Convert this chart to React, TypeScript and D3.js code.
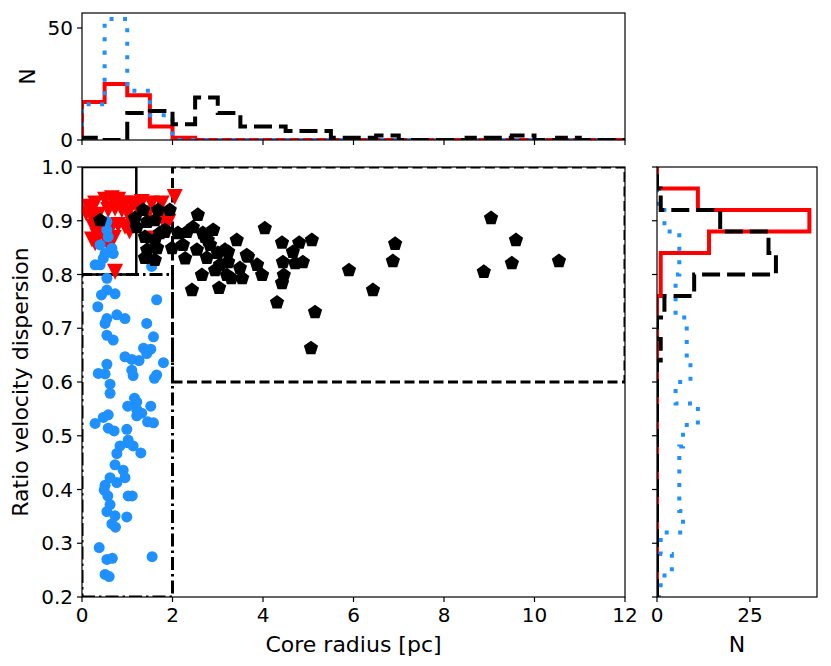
import * as d3 from 'd3';

const FONT = '"DejaVu Sans", Verdana, sans-serif';

// scatter groups: [core radius (pc), ratio velocity dispersion]
const redPoints: [number, number][] = [
  [2.05, 0.944], [1.83, 0.905], [0.14, 0.926], [0.29, 0.932], [0.51, 0.939], [0.66, 0.942],
  [0.80, 0.939], [0.95, 0.932], [1.10, 0.932], [1.32, 0.935], [1.54, 0.932], [1.76, 0.932],
  [0.21, 0.908], [0.36, 0.911], [0.58, 0.920], [0.73, 0.923], [0.88, 0.920], [1.02, 0.914],
  [1.21, 0.926], [0.25, 0.889], [0.43, 0.886], [0.66, 0.889], [0.80, 0.892], [0.95, 0.889],
  [1.10, 0.898], [1.47, 0.914], [1.76, 0.905], [1.91, 0.898], [0.29, 0.858], [0.58, 0.855],
  [0.73, 0.805], [1.54, 0.867], [0.51, 0.870], [0.09, 0.914], [0.34, 0.872], [0.22, 0.865],
  [0.70, 0.868], [1.05, 0.880],
];

const bluePoints: [number, number][] = [
  [0.55, 0.898], [0.55, 0.883], [0.58, 0.870], [0.40, 0.855], [0.66, 0.849], [0.69, 0.839],
  [0.51, 0.839], [0.47, 0.830], [0.29, 0.818], [0.40, 0.818], [1.54, 0.815], [0.55, 0.793],
  [0.55, 0.771], [0.43, 0.762], [0.73, 0.764], [0.35, 0.740], [1.65, 0.753], [0.55, 0.718],
  [0.77, 0.725], [0.95, 0.718], [0.51, 0.709], [1.43, 0.709], [0.55, 0.687], [0.69, 0.678],
  [1.58, 0.684], [1.36, 0.663], [1.52, 0.661], [1.43, 0.653], [0.95, 0.647], [1.10, 0.642],
  [1.26, 0.640], [1.80, 0.636], [0.55, 0.633], [0.36, 0.616], [0.51, 0.615], [1.10, 0.622],
  [1.13, 0.612], [1.65, 0.613], [1.60, 0.607], [0.62, 0.596], [0.62, 0.579], [1.16, 0.570],
  [1.21, 0.563], [1.01, 0.555], [1.52, 0.555], [1.21, 0.549], [1.32, 0.542], [1.21, 0.537],
  [0.58, 0.539], [0.47, 0.534], [0.29, 0.523], [1.45, 0.526], [1.58, 0.524], [0.58, 0.514],
  [0.71, 0.509], [0.99, 0.512], [1.02, 0.492], [1.02, 0.487], [1.13, 0.481], [0.84, 0.481],
  [0.77, 0.467], [1.30, 0.468], [0.73, 0.446], [0.91, 0.436], [0.95, 0.422], [0.62, 0.422],
  [0.77, 0.413], [0.51, 0.408], [0.49, 0.399], [0.57, 0.388], [1.02, 0.388], [1.11, 0.388],
  [0.62, 0.372], [0.55, 0.359], [0.73, 0.351], [0.99, 0.349], [0.66, 0.336], [0.74, 0.330],
  [0.38, 0.292], [0.55, 0.270], [0.67, 0.272], [1.55, 0.275], [0.51, 0.242], [0.60, 0.238],
];

const blackPoints: [number, number][] = [
  [9.04, 0.905], [9.59, 0.864], [9.50, 0.821], [8.88, 0.805], [10.54, 0.825], [6.92, 0.857],
  [6.87, 0.825], [5.90, 0.808], [6.43, 0.771], [5.15, 0.730], [5.06, 0.663], [5.08, 0.864],
  [4.80, 0.859], [4.66, 0.842], [4.88, 0.823], [4.71, 0.821], [4.42, 0.859], [4.44, 0.823],
  [4.46, 0.799], [4.42, 0.784], [4.31, 0.748], [4.04, 0.886],
  [2.56, 0.911], [2.45, 0.888], [2.90, 0.883], [3.42, 0.864], [2.72, 0.870], [2.32, 0.879],
  [2.12, 0.877], [1.83, 0.879], [2.23, 0.855], [1.99, 0.849], [2.28, 0.830], [2.54, 0.846],
  [2.83, 0.855], [2.76, 0.831], [3.00, 0.840], [3.23, 0.842], [3.23, 0.823], [3.05, 0.818],
  [2.94, 0.808], [3.20, 0.799], [3.30, 0.793], [3.54, 0.793], [3.49, 0.812], [3.64, 0.836],
  [3.87, 0.818], [3.98, 0.799], [2.65, 0.799], [2.43, 0.771], [3.03, 0.775], [1.94, 0.920],
  [1.72, 0.877], [2.78, 0.864], [2.67, 0.877], [3.16, 0.846], [3.67, 0.833],
  [0.40, 0.901], [1.35, 0.920], [1.17, 0.905], [1.21, 0.888], [1.44, 0.898], [1.68, 0.920],
  [1.61, 0.901], [1.83, 0.883], [1.39, 0.870], [1.61, 0.864], [1.44, 0.846], [1.66, 0.849],
  [1.39, 0.831], [1.61, 0.827],
];

// top histogram: core radius, bins of 0.5 pc from 0 to 12
const radiusEdges = d3.range(0, 12.001, 0.5);
const radiusRed = [17, 25, 20, 6, 1, 0, 0, 0, 0, 0, 0, 0, 0, 0, 0, 0, 0, 0, 0, 0, 0, 0, 0, 0];
const radiusBlue = [16, 54, 22, 11, 0, 0, 0, 0, 0, 0, 0, 0, 0, 0, 0, 0, 0, 0, 0, 0, 0, 0, 0, 0];
const radiusBlack = [1, 0, 12, 13, 7, 19, 12, 6, 6, 4, 4, 1, 1, 2, 0, 0, 0, 1, 1, 2, 0, 1, 0, 0];

// side histogram: ratio, bins of 0.04 from 0.2 to 1.0
const ratioEdges = d3.range(0, 21).map(i => 0.2 + i * 0.04);
const ratioRed = [0, 0, 0, 0, 0, 0, 0, 0, 0, 0, 0, 0, 0, 0, 1, 1, 14, 41, 11, 0];
const ratioBlue = [1, 4, 1, 7, 6, 6, 6, 7, 11, 5, 9, 8, 8, 5, 5, 6, 6, 2, 0, 0];
const ratioBlack = [0, 0, 0, 0, 0, 0, 0, 0, 0, 0, 0, 1, 0, 2, 10, 32, 30, 17, 1, 0];

const xTicks = [0, 2, 4, 6, 8, 10, 12];
const yTicks = [0.2, 0.3, 0.4, 0.5, 0.6, 0.7, 0.8, 0.9, 1.0];
const topTicks = [0, 50];
const sideTicks = [0, 25];

const MAIN = { l: 82, r: 625, t: 167, b: 597 };
const TOP = { l: 82, r: 625, t: 13, b: 140 };
const SIDE = { l: 657, r: 817, t: 167, b: 597 };

const x = d3.scaleLinear().domain([0, 12]).range([MAIN.l, MAIN.r]);
const y = d3.scaleLinear().domain([0.2, 1.0]).range([MAIN.b, MAIN.t]);
const topY = d3.scaleLinear().domain([0, 56.7]).range([TOP.b, TOP.t]);
const sideX = d3.scaleLinear().domain([0, 43.05]).range([SIDE.l, SIDE.r]);

const line = d3.line<[number, number]>();

function stepVertical(edges: number[], counts: number[]): string {
  const pts: [number, number][] = [[x(edges[0]), topY(0)]];
  counts.forEach((c, i) => {
    pts.push([x(edges[i]), topY(c)]);
    pts.push([x(edges[i + 1]), topY(c)]);
  });
  pts.push([x(edges[edges.length - 1]), topY(0)]);
  return line(pts) || '';
}

function stepHorizontal(edges: number[], counts: number[]): string {
  const pts: [number, number][] = [[sideX(0), y(edges[0])]];
  counts.forEach((c, i) => {
    pts.push([sideX(c), y(edges[i])]);
    pts.push([sideX(c), y(edges[i + 1])]);
  });
  pts.push([sideX(0), y(edges[edges.length - 1])]);
  return line(pts) || '';
}

function pentagon(cx: number, cy: number, r: number): string {
  const pts: [number, number][] = d3.range(5).map(k => {
    const a = -Math.PI / 2 + (k * 2 * Math.PI) / 5;
    return [cx + r * Math.cos(a), cy + r * Math.sin(a)];
  });
  return (line(pts) || '') + 'Z';
}

function triangleDown(cx: number, cy: number, s: number): string {
  return `M${cx - s},${cy - s}L${cx + s},${cy - s}L${cx},${cy + s}Z`;
}

const RED = '#ff0000';
const BLUE = '#1e90ff';
const HIST_W = 4;
const tickLen = 5;

function rectPath(x0: number, x1: number, y0: number, y1: number): string {
  return `M${x(x0)},${y(y0)}L${x(x1)},${y(y0)}L${x(x1)},${y(y1)}L${x(x0)},${y(y1)}Z`;
}

function Frame({ box }: { box: { l: number; r: number; t: number; b: number } }) {
  return (
    <rect x={box.l} y={box.t} width={box.r - box.l} height={box.b - box.t}
      fill="none" stroke="#000" strokeWidth={1.2} />
  );
}

export default function App() {
  const tickText = { fontFamily: FONT, fontSize: 20, fill: '#000' };
  return (
    <svg width={831} height={666} style={{ position: 'absolute', left: 0, top: 0, background: '#fff' }}>
      <defs>
        <clipPath id="clip-main"><rect x={MAIN.l} y={MAIN.t} width={MAIN.r - MAIN.l} height={MAIN.b - MAIN.t} /></clipPath>
        <clipPath id="clip-top"><rect x={TOP.l} y={TOP.t} width={TOP.r - TOP.l} height={TOP.b - TOP.t} /></clipPath>
        <clipPath id="clip-side"><rect x={SIDE.l} y={SIDE.t} width={SIDE.r - SIDE.l} height={SIDE.b - SIDE.t} /></clipPath>
      </defs>
      <rect width={831} height={666} fill="#fff" />

      {/* top histogram */}
      <g clipPath="url(#clip-top)" fill="none">
        <path d={stepVertical(radiusEdges, radiusRed)} stroke={RED} strokeWidth={HIST_W} />
        <path d={stepVertical(radiusEdges, radiusBlue)} stroke={BLUE} strokeWidth={HIST_W} strokeDasharray="4 9.5" />
        <path d={stepVertical(radiusEdges, radiusBlack)} stroke="#000" strokeWidth={HIST_W} strokeDasharray="18 7" />
      </g>
      <Frame box={TOP} />
      {xTicks.map(t => (
        <line key={'tx' + t} x1={x(t)} x2={x(t)} y1={TOP.b} y2={TOP.b + tickLen} stroke="#000" strokeWidth={1.2} />
      ))}
      {topTicks.map(t => (
        <g key={'ty' + t}>
          <line x1={TOP.l - tickLen} x2={TOP.l} y1={topY(t)} y2={topY(t)} stroke="#000" strokeWidth={1.2} />
          <text x={TOP.l - 9} y={topY(t)} dy="0.36em" textAnchor="end" {...tickText}>{t}</text>
        </g>
      ))}
      <text transform={`translate(35,${(TOP.t + TOP.b) / 2}) rotate(-90)`} textAnchor="middle"
        fontFamily={FONT} fontSize={22}>N</text>

      {/* main scatter */}
      <g clipPath="url(#clip-main)" fill="none" stroke="#000" strokeWidth={3}>
        <path d={rectPath(0, 1.2, 0.8, 1.0)} strokeWidth={2.5} />
        <path d={rectPath(2, 12, 0.6, 1.0)} strokeDasharray="10 4.5" />
        <path d={rectPath(0, 2, 0.2, 0.8)} strokeDasharray="13 4 2.5 4" />
      </g>
      <g clipPath="url(#clip-main)">
        {redPoints.map(([a, b], i) => (
          <path key={'r' + i} d={triangleDown(x(a), y(b), 8)} fill={RED} />
        ))}
        {bluePoints.map(([a, b], i) => (
          <circle key={'b' + i} cx={x(a)} cy={y(b)} r={5.5} fill={BLUE} />
        ))}
        {blackPoints.map(([a, b], i) => (
          <path key={'k' + i} d={pentagon(x(a), y(b), 7.5)} fill="#000" />
        ))}
      </g>
      <Frame box={MAIN} />
      {xTicks.map(t => (
        <g key={'mx' + t}>
          <line x1={x(t)} x2={x(t)} y1={MAIN.b} y2={MAIN.b + tickLen} stroke="#000" strokeWidth={1.2} />
          <text x={x(t)} y={622} textAnchor="middle" {...tickText}>{t}</text>
        </g>
      ))}
      {yTicks.map(t => (
        <g key={'my' + t}>
          <line x1={MAIN.l - tickLen} x2={MAIN.l} y1={y(t)} y2={y(t)} stroke="#000" strokeWidth={1.2} />
          <text x={MAIN.l - 9} y={y(t)} dy="0.36em" textAnchor="end" {...tickText}>{t.toFixed(1)}</text>
        </g>
      ))}
      <text x={(MAIN.l + MAIN.r) / 2} y={652} textAnchor="middle" fontFamily={FONT} fontSize={22}>Core radius [pc]</text>
      <text transform={`translate(28,${(MAIN.t + MAIN.b) / 2}) rotate(-90)`} textAnchor="middle"
        fontFamily={FONT} fontSize={22}>Ratio velocity dispersion</text>

      {/* side histogram */}
      <g clipPath="url(#clip-side)" fill="none">
        <path d={stepHorizontal(ratioEdges, ratioRed)} stroke={RED} strokeWidth={HIST_W} />
        <path d={stepHorizontal(ratioEdges, ratioBlue)} stroke={BLUE} strokeWidth={HIST_W} strokeDasharray="4 9.5" />
        <path d={stepHorizontal(ratioEdges, ratioBlack)} stroke="#000" strokeWidth={HIST_W} strokeDasharray="18 7" />
      </g>
      <Frame box={SIDE} />
      {yTicks.map(t => (
        <line key={'sy' + t} x1={SIDE.l - tickLen} x2={SIDE.l} y1={y(t)} y2={y(t)} stroke="#000" strokeWidth={1.2} />
      ))}
      {sideTicks.map(t => (
        <g key={'sx' + t}>
          <line x1={sideX(t)} x2={sideX(t)} y1={SIDE.b} y2={SIDE.b + tickLen} stroke="#000" strokeWidth={1.2} />
          <text x={sideX(t)} y={622} textAnchor="middle" {...tickText}>{t}</text>
        </g>
      ))}
      <text x={(SIDE.l + SIDE.r) / 2} y={652} textAnchor="middle" fontFamily={FONT} fontSize={22}>N</text>
    </svg>
  );
}
